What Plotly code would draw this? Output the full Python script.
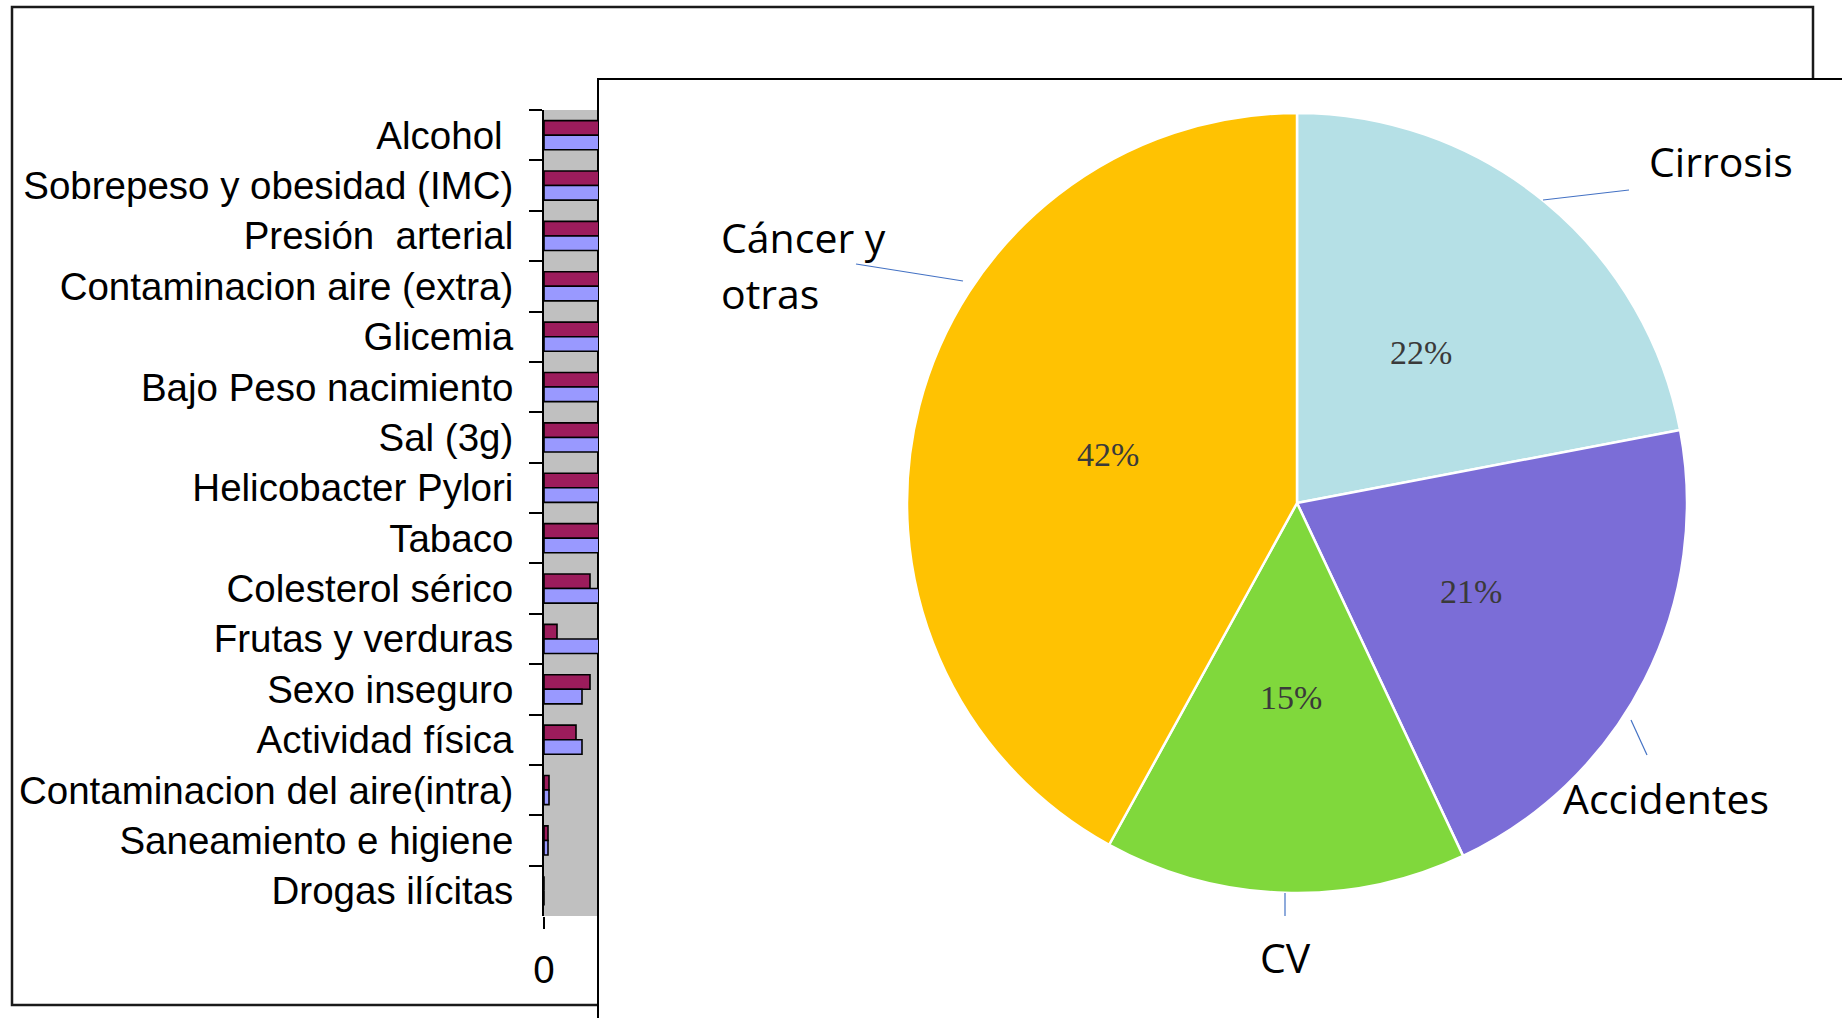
import math
import plotly.graph_objects as go

# ---------------- data ----------------
categories = [
    "Alcohol\u00a0", "Sobrepeso y obesidad (IMC)", "Presión\u00a0 arterial",
    "Contaminacion aire (extra)", "Glicemia", "Bajo Peso nacimiento", "Sal (3g)",
    "Helicobacter Pylori", "Tabaco", "Colesterol sérico", "Frutas y verduras",
    "Sexo inseguro", "Actividad física", "Contaminacion del aire(intra)",
    "Saneamiento e higiene", "Drogas ilícitas",
]
series_a = [12.1, 8.9, 8.2, 7.4, 6.8, 6.3, 6.1, 5.9, 5.8, 4.6, 1.3, 4.6, 3.2, 0.5, 0.4, 0.0]
series_b = [7.5, 10.2, 9.1, 7.9, 7.2, 6.6, 6.3, 6.0, 7.7, 5.9, 5.6, 3.8, 3.8, 0.5, 0.4, 0.0]
x_tick_vals = [0]
x_tick_text = ["0"]

pie_labels = ["Cirrosis", "Accidentes", "CV", "Cáncer y otras"]
pie_values = [22, 21, 15, 42]
pie_colors = ["#B5E0E6", "#7B6DD7", "#80D83C", "#FFC202"]

# ---------------- geometry helpers ----------------
W, H = 1842, 1018


def px(x):
    return x / W


def py(y):
    return 1 - y / H


fig = go.Figure()

fig.add_trace(go.Bar(
    y=categories, x=series_a, orientation="h", name="Serie 1",
    marker=dict(color="#9C1C5C", line=dict(color="#000000", width=1.6)),
    hoverinfo="skip",
))
fig.add_trace(go.Bar(
    y=categories, x=series_b, orientation="h", name="Serie 2",
    marker=dict(color="#9999FF", line=dict(color="#000000", width=1.6)),
    hoverinfo="skip",
))

pie_cx, pie_cy, pie_r = 1297, 503, 390
fig.add_trace(go.Pie(
    labels=pie_labels, values=pie_values, sort=False, direction="clockwise",
    rotation=0,
    marker=dict(colors=pie_colors, line=dict(color="#FFFFFF", width=2.5)),
    textinfo="none",
    domain=dict(x=[px(pie_cx - pie_r), px(pie_cx + pie_r)],
                y=[py(pie_cy + pie_r), py(pie_cy - pie_r)]),
    hoverinfo="skip", showlegend=False,
))

label_font = dict(family="Liberation Sans", size=38.5, color="#000000")

fig.update_layout(
    width=W, height=H, autosize=False,
    margin=dict(l=0, r=0, t=0, b=0, pad=0, autoexpand=False),
    paper_bgcolor="#FFFFFF", plot_bgcolor="#C0C0C0",
    showlegend=False, barmode="group", bargap=0.42, bargroupgap=0,
    xaxis=dict(
        domain=[px(544), px(598)], range=[0, 5.4], fixedrange=True,
        automargin=False,
        tickmode="array", tickvals=x_tick_vals, ticktext=x_tick_text,
        ticks="outside", ticklen=12, tickwidth=1.5, tickcolor="#000000",
        showgrid=False, zeroline=False, showline=False,
        tickfont=label_font, ticklabelstandoff=8,
    ),
    yaxis=dict(
        domain=[py(916), py(110)], autorange="reversed", type="category",
        automargin=False,
        tickmode="linear", tick0=0, dtick=1, tickson="boundaries",
        ticks="outside", ticklen=13, tickwidth=1.5, tickcolor="#000000",
        showgrid=False, zeroline=False, showline=True, linecolor="#000000",
        linewidth=2, tickfont=label_font, ticklabelstandoff=21, fixedrange=True,
    ),
)

shapes = [
    # back frame (bar chart picture)
    dict(type="rect", xref="paper", yref="paper", layer="below",
         x0=px(12), x1=px(1813), y0=py(1005), y1=py(7),
         line=dict(color="#1A1A1A", width=2.5), fillcolor="rgba(0,0,0,0)"),
    # front frame (pie picture)
    dict(type="rect", xref="paper", yref="paper", layer="below",
         x0=px(598), x1=px(1880), y0=py(1060), y1=py(79),
         line=dict(color="#000000", width=2), fillcolor="#FFFFFF"),
]
leaders = [((1543, 200), (1629, 190)), ((856, 264), (963, 281)),
           ((1631, 720), (1647, 755)), ((1285, 893), (1285, 916))]
for (x0, y0), (x1, y1) in leaders:
    shapes.append(dict(type="line", xref="paper", yref="paper", layer="above",
                       x0=px(x0), y0=py(y0), x1=px(x1), y1=py(y1),
                       line=dict(color="#4472C4", width=1.2)))
fig.update_layout(shapes=shapes)

pie_font = dict(family="Open Sans", size=41, color="#000000")
ann = [
    dict(text="Cirrosis", x=px(1647), y=py(161), xanchor="left", yanchor="middle"),
    dict(text="Cáncer y", x=px(719), y=py(237), xanchor="left", yanchor="middle"),
    dict(text="otras", x=px(719), y=py(293), xanchor="left", yanchor="middle"),
    dict(text="Accidentes", x=px(1561), y=py(798), xanchor="left", yanchor="middle"),
    dict(text="CV", x=px(1285), y=py(957), xanchor="center", yanchor="middle"),
]
for a in ann:
    a.update(xref="paper", yref="paper", showarrow=False, font=pie_font)

# percentage labels, placed at half radius on each slice bisector
total = sum(pie_values)
cum = 0.0
pct_font = dict(family="Liberation Serif", size=34, color="#3A3A3A")
for v in pie_values:
    mid = (cum + v / 2) / total * 2 * math.pi
    cum += v
    tx = pie_cx + 0.5 * pie_r * math.sin(mid)
    ty = pie_cy - 0.5 * pie_r * math.cos(mid)
    ann.append(dict(text=f"{round(100 * v / total)}%", x=px(tx), y=py(ty),
                    xref="paper", yref="paper", showarrow=False,
                    xanchor="center", yanchor="middle", font=pct_font))
fig.update_layout(annotations=ann)

fig.write_html("out.html", config={"displayModeBar": False},
               post_script="document.body.style.margin='0';document.body.style.overflow='hidden';")
